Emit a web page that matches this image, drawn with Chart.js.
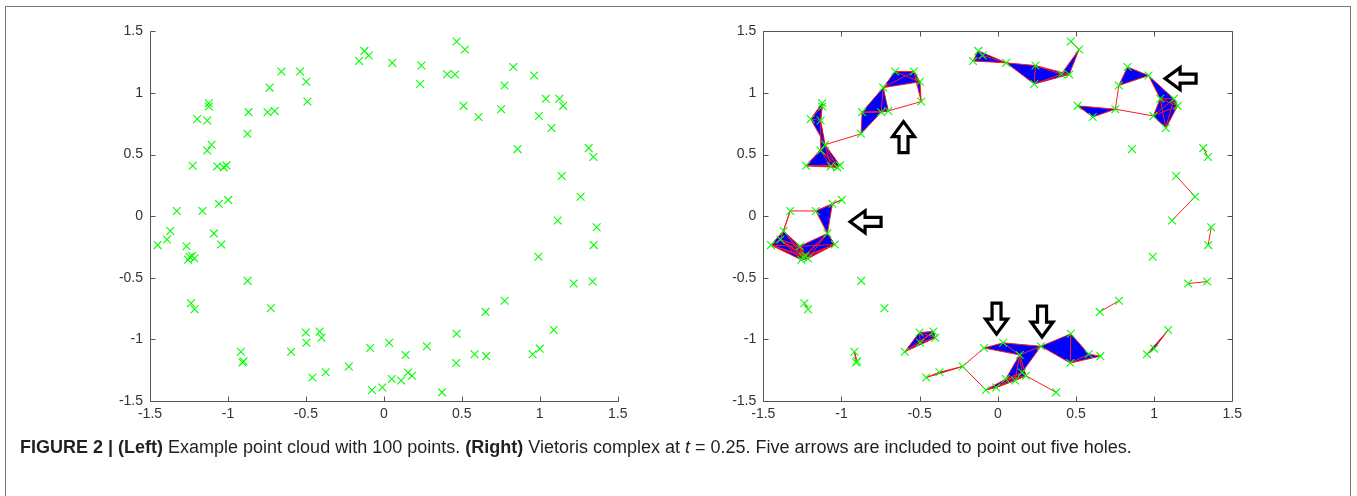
<!DOCTYPE html>
<html>
<head>
<meta charset="utf-8">
<script src="https://cdn.jsdelivr.net/npm/chart.js@4.4.1/dist/chart.umd.min.js"></script>
<style>
html,body{margin:0;padding:0;background:#fff;}
#wrap{position:relative;width:1357px;height:496px;overflow:hidden;background:#fff;}
#frame{position:absolute;left:5px;top:6px;width:1344px;height:600px;border:1px solid #7a7a7a;}
canvas{position:absolute;top:0;}
#cL{left:0;}
#cR{left:690px;}
#cap{position:absolute;left:20px;top:437px;font-family:"Liberation Sans Narrow","Liberation Sans",Arial,sans-serif;font-size:18px;color:#231f20;white-space:nowrap;}
</style>
</head>
<body>
<div id="wrap">
<div id="frame"></div>
<canvas id="cL" width="680" height="440"></canvas>
<canvas id="cR" width="667" height="440"></canvas>
<div id="cap"><b>FIGURE 2 | (Left)</b> Example point cloud with 100 points. <b>(Right)</b> Vietoris complex at <i>t</i> = 0.25. Five arrows are included to point out five holes.</div>
</div>
<script>
// ---- data ----
const pointX = [
-1.328,-1.164,-1.058,-0.998,-1.226,-1.069,-1.027,-1.010,-1.133,-1.105,
-1.197,-1.133,-1.123,-1.123,-0.875,-0.868,-0.746,-0.700,-0.733,-0.657,
-0.537,-0.498,-0.490,-0.159,-0.125,-0.097,0.054,0.241,0.233,0.406,
0.457,0.467,0.520,0.511,0.607,0.752,0.774,0.830,0.964,1.039,
1.126,1.150,0.995,1.075,0.858,1.314,1.344,1.141,1.262,1.115,
1.365,1.346,0.991,1.218,1.339,0.775,0.652,0.467,0.276,0.034,
-0.088,0.140,0.582,0.656,0.464,0.954,1.000,1.090,0.051,0.111,
0.155,0.180,-0.076,-0.010,0.373,-1.451,-1.391,-1.370,-1.266,-1.245,
-1.230,-1.256,-1.215,-1.090,-1.043,-0.874,-1.237,-1.214,-0.725,-0.917,
-0.906,-0.900,-0.595,-0.501,-0.497,-0.412,-0.400,-0.458,-0.373,-0.225];
const pointY = [
0.042,0.042,0.100,0.132,0.409,0.404,0.396,0.412,0.533,0.580,
0.789,0.776,0.916,0.889,0.668,0.844,0.843,0.854,1.043,1.174,
1.174,1.090,0.930,1.259,1.341,1.303,1.244,1.222,1.073,1.152,
1.150,1.418,1.353,0.895,0.805,0.868,1.060,1.211,1.141,0.953,
0.953,0.895,0.813,0.716,0.544,0.552,0.480,0.326,0.158,-0.035,
-0.090,-0.235,-0.330,-0.547,-0.531,-0.686,-0.777,-0.955,-1.056,-1.028,
-1.070,-1.126,-1.120,-1.136,-1.192,-1.120,-1.075,-0.924,-1.321,-1.333,
-1.268,-1.295,-1.410,-1.390,-1.430,-0.235,-0.190,-0.120,-0.245,-0.331,
-0.323,-0.354,-0.344,-0.140,-0.230,-0.525,-0.707,-0.756,-0.748,-1.100,
-1.187,-1.178,-1.100,-0.944,-1.028,-0.937,-0.986,-1.310,-1.266,-1.220];
const axisTicks = [-1.5,-1,-0.5,0,0.5,1,1.5];
const tickLabels = ['-1.5','-1','-0.5','0','0.5','1','1.5'];
const vietorisT = 0.25;
// five arrows pointing at holes: tip position (data units) and direction
const arrowTipX = [-0.603, 1.070, -0.945, -0.008, 0.283];
const arrowTipY = [0.767, 1.116, -0.046, -0.957, -0.981];
const arrowDir  = ['up','left','left','down','down'];

// ---- Vietoris complex built from the points at scale t ----
const N = pointX.length;
const adj = [];
for (let i=0;i<N;i++){ adj.push(new Array(N).fill(false)); }
const edges = [];
for (let i=0;i<N;i++) for (let j=i+1;j<N;j++){
  const d = Math.hypot(pointX[i]-pointX[j], pointY[i]-pointY[j]);
  if (d <= vietorisT){ adj[i][j]=adj[j][i]=true; edges.push([i,j]); }
}
const triangles = [];
for (let i=0;i<N;i++) for (let j=i+1;j<N;j++) if (adj[i][j]) for (let k=j+1;k<N;k++)
  if (adj[i][k] && adj[j][k]) triangles.push([i,j,k]);

// ---- styling ----
const FONT = '"Liberation Sans", Arial, sans-serif';
const AXIS_COLOR = '#555555';
const TEXT_COLOR = '#333333';
const TICK_LEN = 5;

const axesPlugin = {
  id: 'matlabAxes',
  afterDatasetsDraw(chart, args, opts){
    const ctx = chart.ctx, a = chart.chartArea;
    const xs = chart.scales.x, ys = chart.scales.y;
    ctx.save();
    ctx.strokeStyle = AXIS_COLOR; ctx.lineWidth = 1;
    ctx.beginPath();
    const L = Math.round(a.left)+0.5, R = Math.round(a.right)+0.5, T = Math.round(a.top)+0.5, B = Math.round(a.bottom)+0.5;
    ctx.moveTo(L,T); ctx.lineTo(L,B); ctx.lineTo(R,B);
    if (opts.box){ ctx.lineTo(R,T); ctx.lineTo(L,T); }
    axisTicks.forEach(v=>{
      const px = Math.round(xs.getPixelForValue(v))+0.5;
      const py = Math.round(ys.getPixelForValue(v))+0.5;
      ctx.moveTo(px,B); ctx.lineTo(px,B-TICK_LEN);
      ctx.moveTo(L,py); ctx.lineTo(L+TICK_LEN,py);
      if (opts.box){
        ctx.moveTo(px,T); ctx.lineTo(px,T+TICK_LEN);
        ctx.moveTo(R,py); ctx.lineTo(R-TICK_LEN,py);
      }
    });
    ctx.stroke();
    ctx.restore();
  }
};

const complexPlugin = {
  id: 'complex',
  beforeDatasetsDraw(chart, args, opts){
    if (!opts.on) return;
    const ctx = chart.ctx, a = chart.chartArea;
    const xs = chart.scales.x, ys = chart.scales.y;
    const P = i => [xs.getPixelForValue(pointX[i]), ys.getPixelForValue(pointY[i])];
    ctx.save();
    ctx.beginPath(); ctx.rect(a.left,a.top,a.right-a.left,a.bottom-a.top); ctx.clip();
    ctx.fillStyle = '#0000ff';
    triangles.forEach(t=>{
      const p=P(t[0]), q=P(t[1]), r=P(t[2]);
      ctx.beginPath(); ctx.moveTo(p[0],p[1]); ctx.lineTo(q[0],q[1]); ctx.lineTo(r[0],r[1]); ctx.closePath(); ctx.fill();
    });
    ctx.strokeStyle = '#ff1a1a'; ctx.lineWidth = 1;
    ctx.beginPath();
    edges.forEach(e=>{ const p=P(e[0]), q=P(e[1]); ctx.moveTo(p[0],p[1]); ctx.lineTo(q[0],q[1]); });
    ctx.stroke();
    ctx.restore();
  },
  afterDatasetsDraw(chart, args, opts){
    if (!opts.on) return;
    const ctx = chart.ctx;
    const xs = chart.scales.x, ys = chart.scales.y;
    const len=31, headLen=15, headW=22, shaftW=9;
    ctx.save();
    ctx.strokeStyle='#000'; ctx.fillStyle='#fff'; ctx.lineWidth=3.2; ctx.lineJoin='miter';
    arrowTipX.forEach((tx,k)=>{
      const px = xs.getPixelForValue(tx), py = ys.getPixelForValue(arrowTipY[k]);
      const d = arrowDir[k];
      const u = d==='up'?[0,-1]:d==='down'?[0,1]:d==='left'?[-1,0]:[1,0];
      const n = [-u[1], u[0]];
      const pts = [[0,0],[-headLen,headW/2],[-headLen,shaftW/2],[-len,shaftW/2],[-len,-shaftW/2],[-headLen,-shaftW/2],[-headLen,-headW/2]];
      ctx.beginPath();
      pts.forEach((p,i)=>{
        const X = px + u[0]*p[0] + n[0]*p[1];
        const Y = py + u[1]*p[0] + n[1]*p[1];
        if(i===0) ctx.moveTo(X,Y); else ctx.lineTo(X,Y);
      });
      ctx.closePath(); ctx.fill(); ctx.stroke();
    });
    ctx.restore();
  }
};

function makeChart(id, yWidth, padRight, box, complex){
  const data = pointX.map((x,i)=>({x, y:pointY[i]}));
  const tickOpts = (pad)=>({
    color: TEXT_COLOR, font:{family:FONT, size:14}, padding: pad,
    autoSkip:false, maxRotation:0,
    callback:(v)=>{ const i = axisTicks.indexOf(v); return i>=0 ? tickLabels[i] : ''; }
  });
  return new Chart(document.getElementById(id), {
    type:'scatter',
    data:{ datasets:[{
      data, pointStyle:'crossRot', radius:5.5, hoverRadius:5.5,
      borderColor:'#00ff00', backgroundColor:'rgba(0,0,0,0)', borderWidth:1.1
    }]},
    plugins:[axesPlugin, complexPlugin],
    options:{
      responsive:false, devicePixelRatio:1, animation:false, events:[],
      layout:{ padding:{ left:0, top:31.3, right:padRight, bottom:0 } },
      plugins:{ legend:{display:false}, tooltip:{enabled:false},
        matlabAxes:{ box }, complex:{ on: complex } },
      scales:{
        x:{ type:'linear', min:-1.5, max:1.5,
            afterBuildTicks:(s)=>{ s.ticks = axisTicks.map(v=>({value:v})); },
            afterFit:(s)=>{ s.height = 39; },
            grid:{ display:false, drawTicks:false }, border:{ display:false },
            ticks: tickOpts(5) },
        y:{ type:'linear', min:-1.5, max:1.5,
            afterBuildTicks:(s)=>{ s.ticks = axisTicks.map(v=>({value:v})); },
            afterFit:(s)=>{ s.width = yWidth; },
            grid:{ display:false, drawTicks:false }, border:{ display:false },
            ticks: tickOpts(7) }
      }
    }
  });
}
makeChart('cL', 150, 62.3, false, false);
makeChart('cR', 73.3, 124.7, true, true);
</script>
</body>
</html>
